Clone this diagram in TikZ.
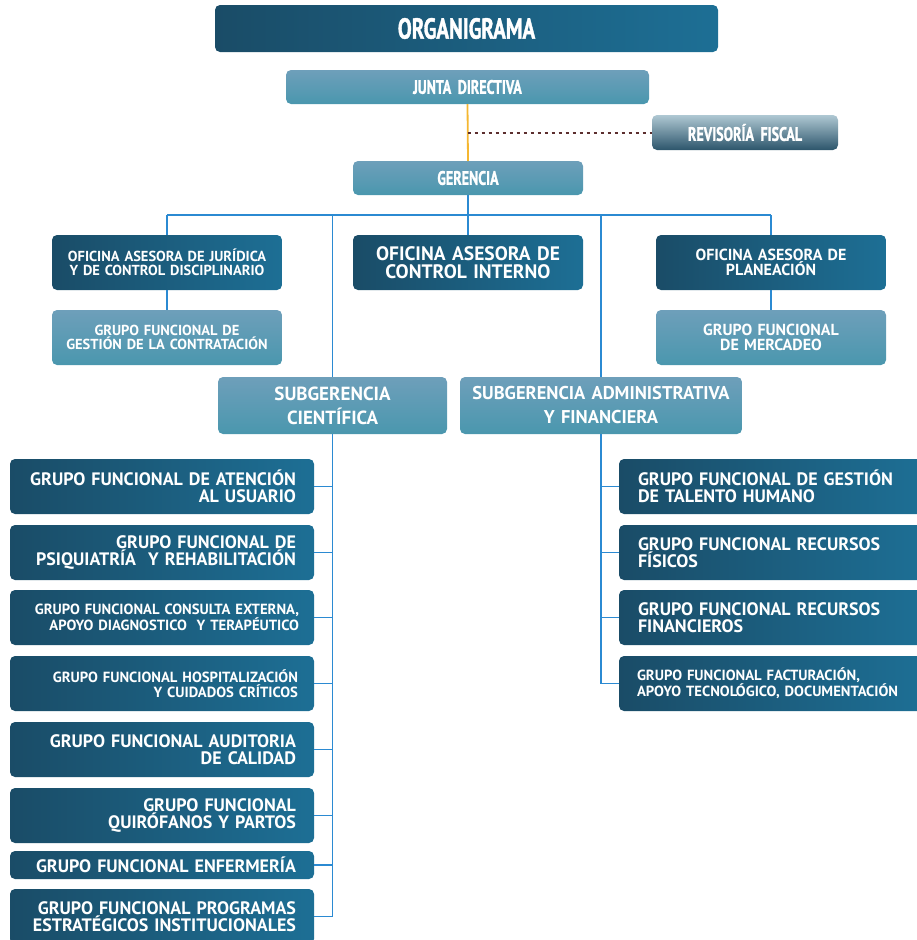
\documentclass[tikz,border=0pt]{standalone}
\usepackage{fontspec}
\setmainfont{PT Sans}
\newfontfamily\condfont{PT Sans}[FakeStretch=0.72, FakeBold=1.2]
\definecolor{dkL}{HTML}{1A4C67}
\definecolor{dkR}{HTML}{1D6F95}
\definecolor{ltT}{HTML}{6E9FBA}
\definecolor{ltB}{HTML}{4A97AE}
\definecolor{lineblue}{HTML}{2B8AD2}
\definecolor{orng}{HTML}{F5B731}
\definecolor{dotc}{HTML}{5C2E2E}
\definecolor{rvT}{HTML}{AFC8D3}
\definecolor{rvB}{HTML}{2C556B}
\tikzset{
  basebox/.style={rounded corners=5pt, text=white, inner ysep=0pt, outer sep=0pt},
  darkbox/.style={basebox, left color=dkL, right color=dkR},
  lightbox/.style={basebox, top color=ltT, bottom color=ltB},
  revbox/.style={basebox, top color=rvT, bottom color=rvB},
  conn/.style={draw=lineblue, line width=1.8pt},
  orngline/.style={draw=orng, line width=1.8pt},
  dotline/.style={draw=dotc, line width=2pt, dash pattern=on 3pt off 4pt},
  bigf/.style={font=\bfseries\fontsize{18}{17.5}\selectfont},
  smallf/.style={font=\bfseries\fontsize{14.7}{14.5}\selectfont},
  condf/.style={font=\condfont\bfseries\fontsize{#1}{#1}\selectfont},
}
\newcommand\obox[9]{%
  \pgfmathsetmacro\bw{#5-#3}%
  \pgfmathsetmacro\bh{#6-#4}%
  \pgfmathsetmacro\tw{#5-#3-2*#7}%
  \node[minimum width=\bw pt, minimum height=\bh pt, text width=\tw pt, inner xsep=#7pt, align=#8, #2] (#1) at ({(#3+#5)/2},{(#4+#6)/2}) {#9};}
\begin{document}
\begin{tikzpicture}[x=1pt, y=-1pt]
\useasboundingbox (0,0) rectangle (916,940);
% top
\obox{org}{darkbox, condf=29}{215}{5}{718}{52}{10}{center}{ORGANIGRAMA}
\obox{jd}{lightbox, condf=19.5}{286}{70}{649}{104}{10}{center}{JUNTA DIRECTIVA}
\obox{rev}{revbox, condf=19.5}{652}{115}{838}{150}{10}{center}{REVISORÍA FISCAL}
\obox{ger}{lightbox, condf=19.5}{353}{161}{583}{195}{10}{center}{GERENCIA}
% second level
\obox{jur}{darkbox, font=\bfseries\fontsize{14.5}{13.5}\selectfont}{52}{235}{282}{290}{6}{center}{OFICINA ASESORA DE JURÍDICA\\Y DE CONTROL DISCIPLINARIO}
\obox{con}{lightbox, font=\bfseries\fontsize{14.5}{13.5}\selectfont}{52}{310}{282}{365}{6}{center}{GRUPO FUNCIONAL DE\\GESTIÓN DE LA CONTRATACIÓN}
\obox{oci}{darkbox, font=\bfseries\fontsize{19.5}{18.5}\selectfont}{353}{235}{583}{290}{6}{center}{OFICINA ASESORA DE\\CONTROL INTERNO}
\obox{pla}{darkbox, font=\bfseries\fontsize{16}{15}\selectfont}{656}{235}{886}{290}{6}{center}{OFICINA ASESORA DE\\PLANEACIÓN}
\obox{mer}{lightbox, font=\bfseries\fontsize{16}{15}\selectfont}{656}{310}{886}{365}{6}{center}{GRUPO FUNCIONAL\\DE MERCADEO}
\obox{sc}{lightbox, font=\bfseries\fontsize{19}{24}\selectfont}{218}{377}{447}{434}{6}{center}{SUBGERENCIA\\CIENTÍFICA}
\obox{sa}{lightbox, font=\bfseries\fontsize{18.5}{24}\selectfont}{460}{377}{742}{434}{6}{center}{SUBGERENCIA ADMINISTRATIVA\\Y FINANCIERA}
% left column
\obox{l1}{darkbox, bigf}{10}{459}{314}{514}{18}{right}{GRUPO FUNCIONAL DE ATENCIÓN\\AL USUARIO}
\obox{l2}{darkbox, bigf}{10}{525}{314}{580}{18}{right}{GRUPO FUNCIONAL DE\\PSIQUIATRÍA \ Y REHABILITACIÓN}
\obox{l3}{darkbox, smallf}{10}{590}{314}{645}{15}{right}{GRUPO FUNCIONAL CONSULTA EXTERNA,\\APOYO DIAGNOSTICO \ Y TERAPÉUTICO}
\obox{l4}{darkbox, smallf}{10}{656}{314}{711}{16}{right}{GRUPO FUNCIONAL HOSPITALIZACIÓN\\Y CUIDADOS CRÍTICOS}
\obox{l5}{darkbox, bigf}{10}{722}{314}{777}{18}{right}{GRUPO FUNCIONAL AUDITORIA\\DE CALIDAD}
\obox{l6}{darkbox, bigf}{10}{788}{314}{843}{18}{right}{GRUPO FUNCIONAL\\QUIRÓFANOS Y PARTOS}
\obox{l7}{darkbox, bigf}{10}{851}{314}{879}{18}{right}{GRUPO FUNCIONAL ENFERMERÍA}
\obox{l8}{darkbox, bigf}{10}{889}{314}{944}{18}{right}{GRUPO FUNCIONAL PROGRAMAS\\ESTRATÉGICOS INSTITUCIONALES}
% right column
\obox{r1}{darkbox, bigf}{619}{459}{925}{514}{19}{left}{GRUPO FUNCIONAL DE GESTIÓN\\DE TALENTO HUMANO}
\obox{r2}{darkbox, bigf}{619}{525}{925}{580}{19}{left}{GRUPO FUNCIONAL RECURSOS\\FÍSICOS}
\obox{r3}{darkbox, bigf}{619}{590}{925}{645}{19}{left}{GRUPO FUNCIONAL RECURSOS\\FINANCIEROS}
\obox{r4}{darkbox, smallf}{619}{656}{925}{711}{18}{left}{GRUPO FUNCIONAL FACTURACIÓN,\\APOYO TECNOLÓGICO, DOCUMENTACIÓN}
% connectors
\draw[orngline] (jd.south) -- (ger.north);
\coordinate (dotstart) at (jd.south |- rev.west);
\draw[dotline] (dotstart) -- (rev.west);
\coordinate (busL) at (167,215);
\coordinate (busR) at (771,215);
\draw[conn] (ger.south) -- (oci.north);
\draw[conn] (busL) -- (busR);
\draw[conn] (busL) -- (jur.north);
\draw[conn] (busR) -- (pla.north);
\draw[conn] (jur.south) -- (con.north);
\draw[conn] (pla.south) -- (mer.north);
\coordinate (sctop) at (sc.north |- busL);
\coordinate (satop) at (sa.north |- busL);
\draw[conn] (sctop) -- (sc.north);
\draw[conn] (satop) -- (sa.north);
\coordinate (lspine) at (sc.south |- l8.east);
\draw[conn] (sc.south) -- (lspine);
\foreach \n in {l1,l2,l3,l4,l5,l6,l7,l8}{
  \draw[conn] (\n.east) -- (sc.south |- \n.east);
}
\coordinate (rspine) at (sa.south |- r4.west);
\draw[conn] (sa.south) -- (rspine);
\foreach \n in {r1,r2,r3,r4}{
  \draw[conn] (\n.west) -- (sa.south |- \n.west);
}
\end{tikzpicture}
\end{document}
